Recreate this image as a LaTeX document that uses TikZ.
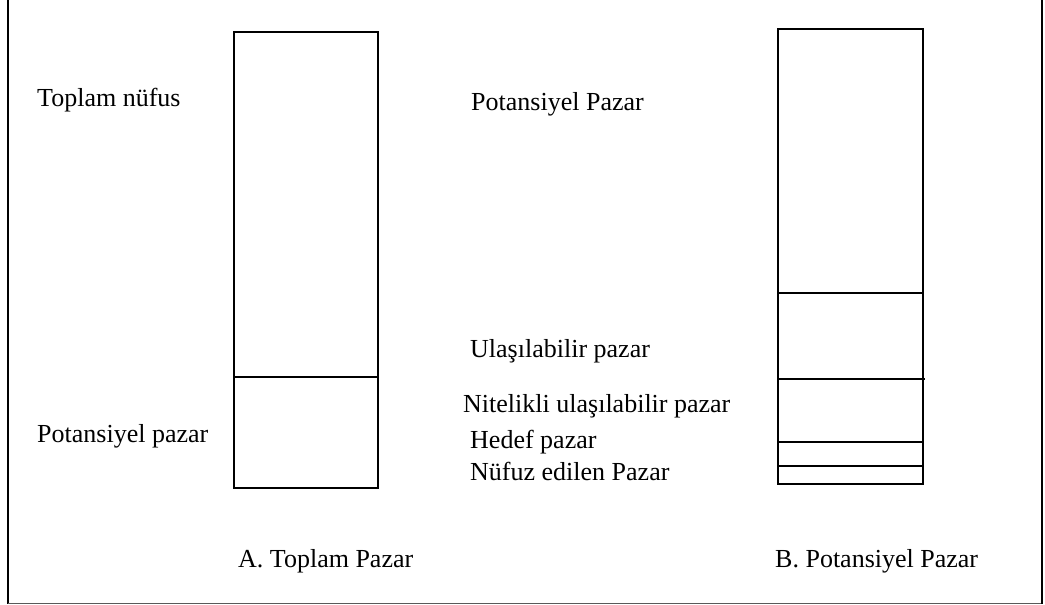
\documentclass[tikz,border=0pt]{standalone}
\usepackage{fontspec}
\setmainfont{Liberation Serif}
\begin{document}
\begin{tikzpicture}[x=1pt,y=-1pt,
  lbl/.style={anchor=base west,inner sep=0pt,font=\fontsize{26}{30}\selectfont},
  bar/.style={line width=1.6pt,line join=miter}]
\useasboundingbox (0,0) rectangle (1045,605);
% outer frame (top edge lies above the page)
\draw[line width=1.8pt] (8,-5) -- (8,603.5);
\draw[line width=1pt,gray!70!black] (8,603.5) -- (1042,603.5);
\draw[line width=1.8pt] (1042,-5) -- (1042,603.5);

% A. total market column
\draw[bar] (234,32) rectangle (378,488);
\draw[bar] (234,377) -- (378,377);

% B. potential market column
\draw[bar] (778,29) rectangle (923,484);
\draw[bar] (778,293) -- (923,293);
\draw[bar] (778,379) -- (925,379);
\draw[bar] (778,442) -- (923,442);
\draw[bar] (778,466) -- (923,466);

% labels
\node[lbl] (tn) at (37,106) {Toplam nüfus};
\node[lbl] (pp) at (37,442) {Potansiyel pazar};
\node[lbl] (pP) at (471,110) {Potansiyel Pazar};
\node[lbl] (up) at (470,357) {Ulaşılabilir pazar};
\node[lbl] (nu) at (463,412) {Nitelikli ulaşılabilir pazar};
\node[lbl] (hp) at (470,448) {Hedef pazar};
\node[lbl] (ne) at (470,480) {Nüfuz edilen Pazar};
\node[lbl] (ta) at (238,567) {A. Toplam Pazar};
\node[lbl] (tb) at (775,567) {B. Potansiyel Pazar};
\end{tikzpicture}
\end{document}
